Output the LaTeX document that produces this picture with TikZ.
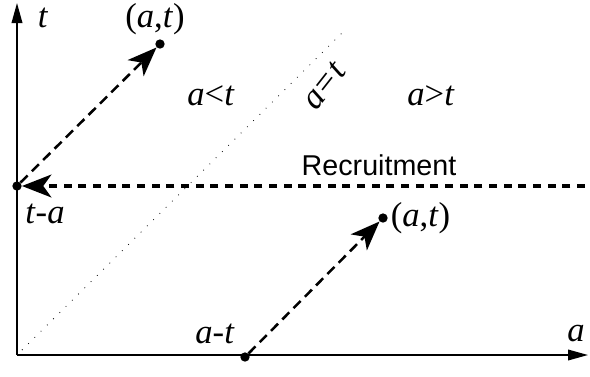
\documentclass[tikz,border=0pt]{standalone}
\usepackage{fontspec}
\setmainfont{Liberation Serif}
\setsansfont{Liberation Sans}
\usetikzlibrary{arrows.meta, positioning, calc}

\newcommand{\va}{\textit{a}}
\newcommand{\vt}{\textit{t}}

\begin{document}
\begin{tikzpicture}[
    x=0.75pt, y=-0.75pt,
    axis/.style={-{Triangle[length=15pt, width=8pt]}, line width=1.1pt, draw=black},
    agearrow/.style={-{Stealth[length=22pt, width=17pt, inset=6pt]}, line width=1.9pt,
        dash pattern=on 7.5pt off 4.5pt},
    recarrow/.style={-{Stealth[length=22pt, width=17pt, inset=6pt]}, line width=3pt,
        dash pattern=on 6pt off 5pt},
    diag/.style={line width=0.6pt, dash pattern=on 0.6pt off 6pt},
    dot/.style={circle, fill=black, inner sep=0pt, minimum size=7pt},
    mathlabel/.style={font=\fontsize{26}{30}\selectfont, inner sep=1pt},
    textlabel/.style={font=\sffamily\fontsize{21.5}{25}\selectfont, inner sep=1pt}
]
\useasboundingbox (0,0) rectangle (590,376);

% Axes
\coordinate (origin) at (17,355);
\coordinate (tend) at (17,3);
\coordinate (aend) at (588,355);
\draw[axis] (origin) -- (tend);
\draw[axis] (origin) -- (aend);
\node[mathlabel] (tlab) at (43,18) {\vt};
\node[mathlabel] (alab) at (576,334) {\va};

% Diagonal a=t
\coordinate (dstart) at (22,350);
\coordinate (dend) at (345,30);
\draw[diag] (dstart) -- (dend);
\node[mathlabel, font=\fontsize{26}{30}\selectfont\itshape, rotate=52] (eqlab) at (324,86) {a=t};
\node[mathlabel] (ltlab) at (211,96) {\va<\vt};
\node[mathlabel] (gtlab) at (431,96) {\va>\vt};

% Points
\node[dot] (ta) at (17,186) {};
\node[dot] (ptop) at (160,44) {};
\node[dot] (at) at (245,357) {};
\node[dot] (pbot) at (383,218) {};
\coordinate (recstart) at (585,186);

\node[mathlabel] (ptoplab) at (155,19) {(\va,\vt)};
\node[mathlabel, right=1pt of pbot] (pbotlab) {(\va,\vt)};
\node[mathlabel] (talab) at (45,214) {\vt-\va};
\node[mathlabel] (atlab) at (215,334) {\va-\vt};
\node[textlabel] (reclab) at (379,165) {Recruitment};

% Connectors
\draw[agearrow] (ta) -- (ptop);
\draw[agearrow] (at) -- (pbot);
\draw[recarrow] (recstart) -- (ta);

\end{tikzpicture}
\end{document}
